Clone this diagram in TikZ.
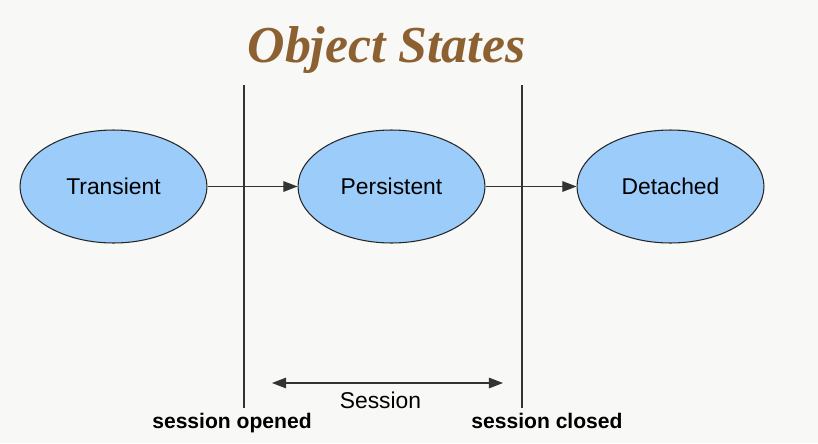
\documentclass[tikz,border=0pt]{standalone}
\usepackage{fontspec}
\setmainfont{Liberation Sans}
\newfontfamily\titlefont{Liberation Serif}
\usetikzlibrary{shapes.geometric,arrows.meta}
\definecolor{titlebrown}{RGB}{140,96,48}
\definecolor{stateblue}{RGB}{156,204,250}
\definecolor{paper}{RGB}{248,248,246}
\tikzset{
  state/.style={ellipse, draw=black!85, fill=stateblue, line width=0.6pt,
    minimum width=3.74cm, minimum height=2.26cm, inner sep=0pt,
    font=\fontsize{13}{15}\selectfont},
  divider/.style={line width=0.6pt, draw=black!80},
  flow/.style={->, line width=0.6pt, draw=black!80},
  boundary/.style={font=\bfseries\fontsize{12}{14}\selectfont}
}
\begin{document}
\begin{tikzpicture}[x=0.02cm, y=-0.02cm, line join=round, >={Triangle[length=8pt,width=6pt]}]
  \path[fill=paper] (0,0) rectangle (818,443);
  \useasboundingbox (0,0) rectangle (818,443);
  \node[anchor=base, text=titlebrown, font=\titlefont\bfseries\itshape\fontsize{29.5}{32}\selectfont] (title) at (386.5,62) {Object States};
  % States
  \node[state] (trans) at (113.5,186.5) {Transient};
  \node[state] (pers) at (391.5,186.5) {Persistent};
  \node[state] (det) at (670.5,186.5) {Detached};
  \draw[flow] (trans) -- (pers);
  \draw[flow] (pers) -- (det);
  % Session boundaries
  \coordinate (openT) at (244,85);
  \coordinate (openB) at (244,408);
  \coordinate (closeT) at (522,85);
  \coordinate (closeB) at (522,408);
  \draw[divider] (openT) -- (openB);
  \draw[divider] (closeT) -- (closeB);
  \coordinate (sesL) at (272,383);
  \coordinate (sesR) at (503,383);
  \draw[flow, <->] (sesL) -- (sesR);
  \node[font=\fontsize{13}{15}\selectfont] (session) at (380.5,400) {Session};
  \node[boundary] (opened) at (232,423) {session opened};
  \node[boundary] (closed) at (547,421) {session closed};
\end{tikzpicture}
\end{document}
